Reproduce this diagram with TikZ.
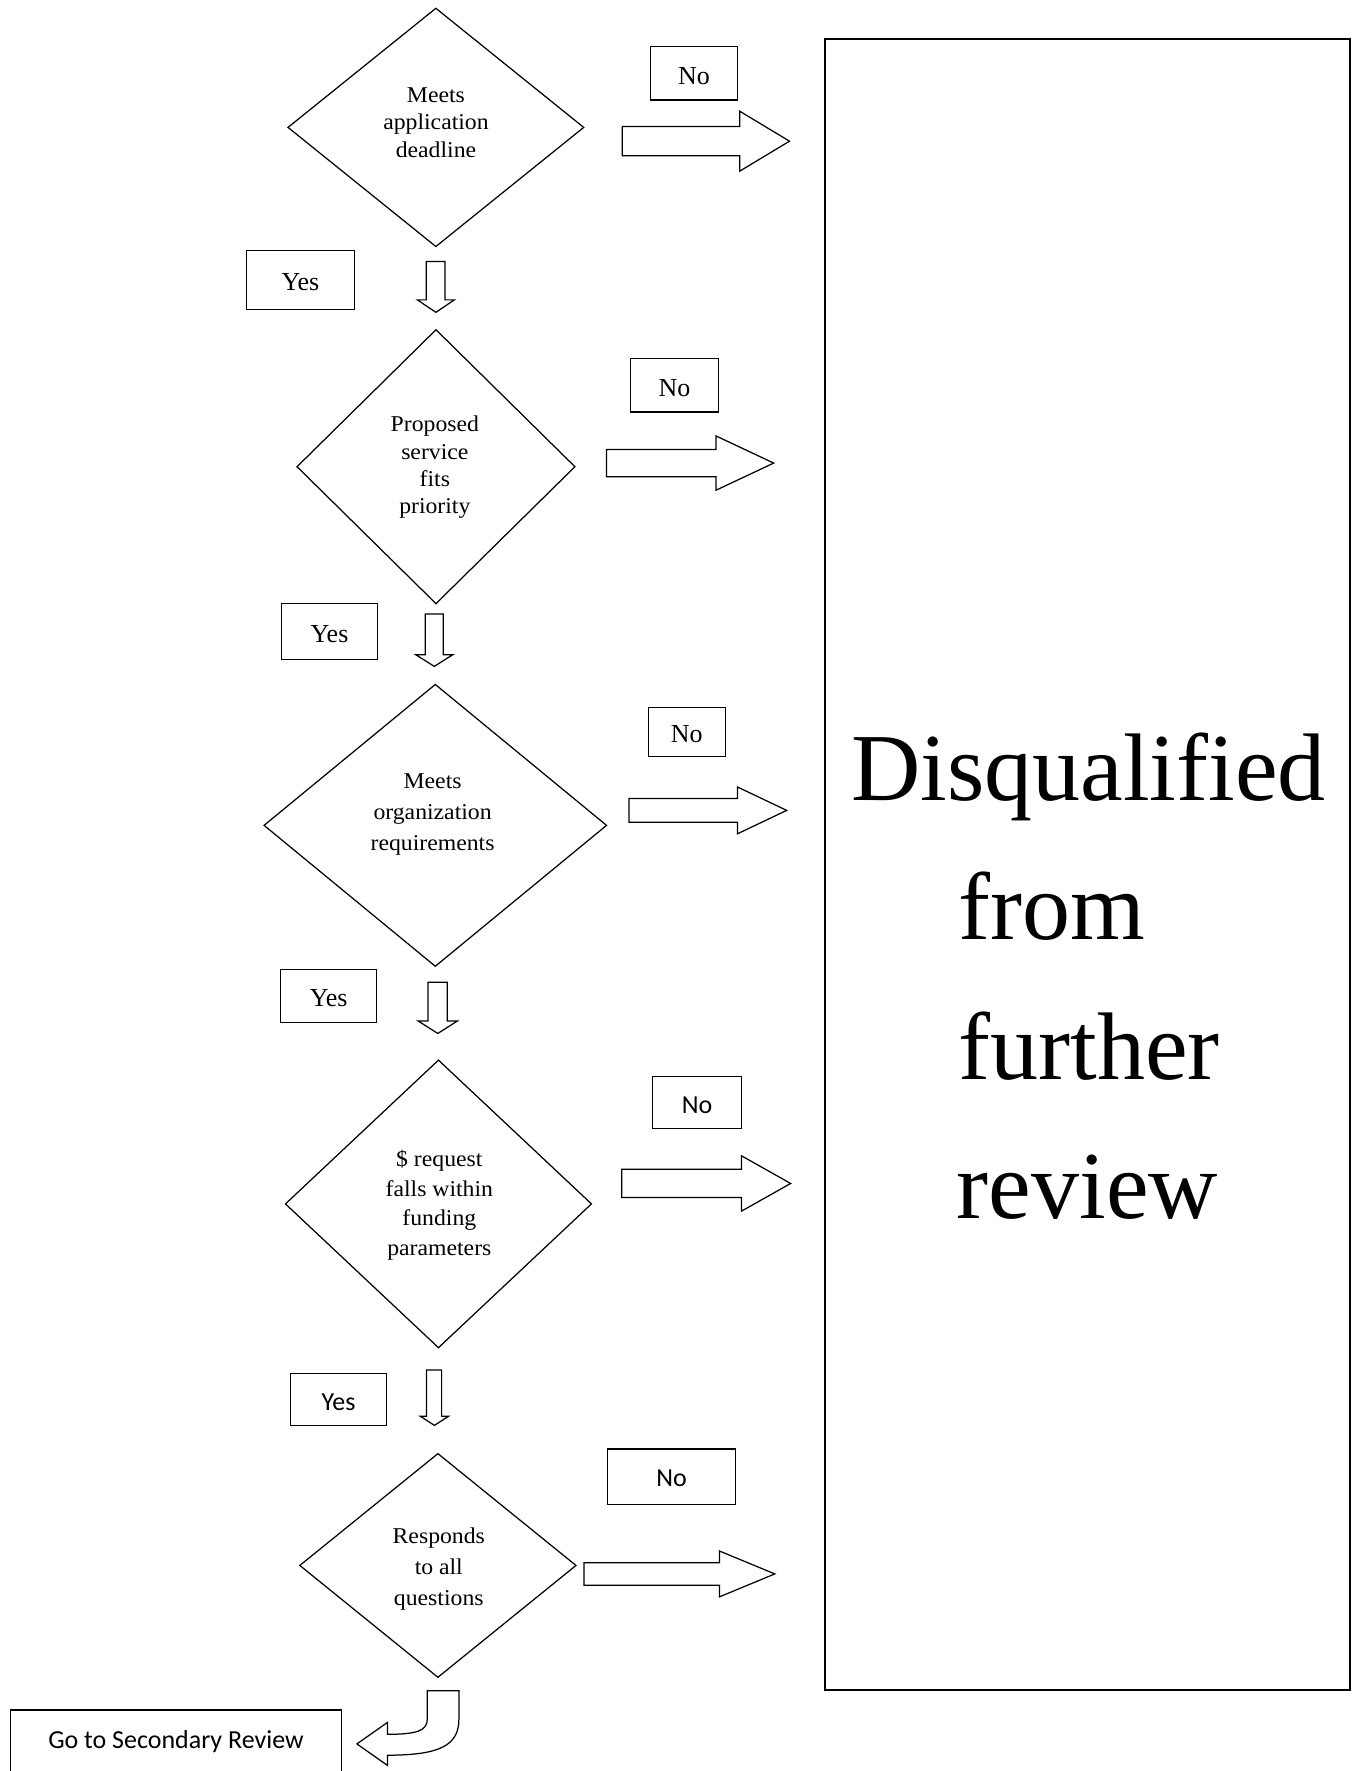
\documentclass[tikz,border=0pt]{standalone}
\usepackage{fontspec}
\setmainfont{Liberation Serif}
\newfontfamily\dsans{Carlito}
\newfontfamily\dserif{Liberation Serif}[FakeStretch=1.05]
\newfontfamily\dqfont{Liberation Serif}[Ligatures=CommonOff]
\usetikzlibrary{shapes.geometric,calc}

\tikzset{
  dia/.style={draw, shape=diamond, line width=1.1pt, inner sep=0pt, outer sep=0pt},
  dtext/.style={anchor=north, align=center, inner sep=0pt},
  lbl/.style={draw, line width=1.1pt, inner sep=0pt, text height=19pt, text depth=0pt, font=\fontsize{23}{27}\selectfont},
  slbl/.style={draw, line width=1.1pt, inner sep=0pt, text height=19.5pt, text depth=0pt, font=\dsans\fontsize{23}{27}\selectfont},
  blk/.style={draw, line width=1.1pt, line join=miter, fill=white},
  bigbox/.style={draw, line width=1.8pt},
  dq/.style={anchor=base west, inner sep=0pt, font=\dqfont\fontsize{85}{100}\selectfont},
}

% right block arrow: x-start, x-headbase, x-tip, y-centre, shaft half, head half
\newcommand\RightBlk[6]{\draw[blk] (#1,#4-#5) -- (#2,#4-#5) -- (#2,#4-#6) -- (#3,#4) -- (#2,#4+#6) -- (#2,#4+#5) -- (#1,#4+#5) -- cycle;}
% down block arrow: x-left, x-right, y-top, y-headbase, head-left, head-right, y-tip
\newcommand\DownBlk[7]{\draw[blk] (#1,#3) -- (#2,#3) -- (#2,#4) -- (#6,#4) -- ({(#5+#6)/2},#7) -- (#5,#4) -- (#1,#4) -- cycle;}

\begin{document}
\begin{tikzpicture}[x=1pt,y=-1pt]
\useasboundingbox (0,0) rectangle (1201,1568);

% big result box
\draw[bigbox] (730.5,34.5) rectangle (1195.5,1496.5);
\node[dq] (dq1) at (753.5,708.9) {Disqualified};
\node[dq] (dq2) at (848.5,832.1) {from};
\node[dq] (dq3) at (848.5,955.5) {further};
\node[dq] (dq4) at (847,1078.5) {review};

% decision diamonds
\node[dia, minimum width=261.8pt, minimum height=210.9pt] (d1) at (385.9,112.8) {};
\node[dia, minimum width=246pt, minimum height=242.5pt] (d2) at (386,413.2) {};
\node[dia, minimum width=303.2pt, minimum height=249.5pt] (d3) at (385.4,730.75) {};
\node[dia, minimum width=270.9pt, minimum height=254.6pt] (d4) at (388.2,1065.9) {};
\node[dia, minimum width=244.5pt, minimum height=198pt] (d5) at (387.7,1386) {};

\node[dtext, font=\dserif\fontsize{20}{24.3}\selectfont] (t1) at (386,77.5) {Meets\\application\\deadline};
\node[dtext, font=\dserif\fontsize{20}{24.1}\selectfont] (t2) at (385,368.3) {Proposed\\service\\fits\\priority};
\node[dtext, font=\dserif\fontsize{20}{27.5}\selectfont] (t3) at (383,684.8) {Meets\\organization\\requirements};
\node[dtext, font=\dserif\fontsize{20}{26}\selectfont] (t4) at (389,1018.5) {\$ request\\falls within\\funding\\parameters};
\node[dtext, font=\dserif\fontsize{20}{27.5}\selectfont] (t5) at (388.5,1352.5) {Responds\\to all\\questions};

% labels
\node[lbl, minimum width=77.5pt, minimum height=47pt] (n1) at (614.5,65) {No};
\node[lbl, minimum width=96pt, minimum height=52.5pt] (y1) at (266,248) {Yes};
\node[lbl, minimum width=78.5pt, minimum height=47pt] (n2) at (597.2,341.2) {No};
\node[lbl, minimum width=85.6pt, minimum height=49.5pt] (y2) at (291.7,559.2) {Yes};
\node[lbl, minimum width=68pt, minimum height=43pt] (n3) at (608,648) {No};
\node[lbl, minimum width=85pt, minimum height=47pt] (y3) at (291,882) {Yes};
\node[slbl, minimum width=78.5pt, minimum height=45.6pt] (n4) at (617.2,976.2) {No};
\node[slbl, minimum width=84.5pt, minimum height=46pt] (y4) at (299.7,1239) {Yes};
\node[slbl, minimum width=113.5pt, minimum height=49pt, text height=17pt] (n5) at (594.7,1307.5) {No};
\node[slbl, minimum width=293.6pt, minimum height=58pt, text height=15pt, text depth=5pt] (go) at (155.8,1543) {Go to Secondary Review};

% "No" block arrows
\RightBlk{551}{655}{699}{125}{13}{26.5}
\RightBlk{537}{634}{685}{410}{12}{24}
\RightBlk{557}{653}{696.5}{717.5}{10.5}{20.7}
\RightBlk{550.5}{656.5}{700}{1047.8}{12.5}{24.5}
\RightBlk{517}{637}{686}{1393.5}{10}{20.3}

% "Yes" block arrows
\DownBlk{377.3}{393.9}{231.6}{265.5}{369.5}{402.3}{276.5}
\DownBlk{376.4}{392.5}{543.6}{579.6}{368}{401}{590}
\DownBlk{379}{396}{869.6}{904}{370.3}{404.9}{915}
\DownBlk{377.6}{391}{1213}{1254}{372.3}{397}{1262}

% curved arrow to secondary review
\draw[blk] (378.3,1497) -- (406.3,1497) -- (406.3,1522)
  .. controls (406.3,1545) and (390,1554) .. (343,1554)
  -- (343,1563) -- (316,1544) -- (343,1525) -- (343,1535.5)
  .. controls (370,1535.5) and (378.3,1532) .. (378.3,1522) -- cycle;
\end{tikzpicture}
\end{document}
